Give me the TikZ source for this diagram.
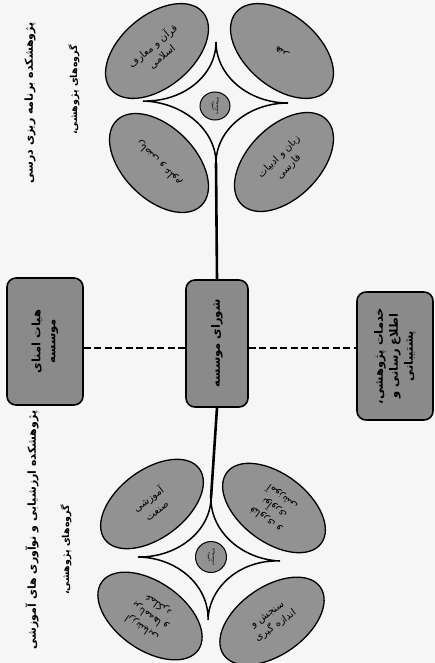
\documentclass[tikz,border=0pt]{standalone}
\usepackage{fontspec}
\newfontfamily\farsi[Script=Arabic]{DejaVu Sans}
\TeXXeTstate=1
\usetikzlibrary{shapes.geometric,calc}
\newcommand{\fa}[1]{\beginR #1\endR}
\definecolor{paper}{RGB}{246,246,246}
\definecolor{petalgray}{RGB}{146,146,146}
\definecolor{boxgray}{RGB}{138,138,138}
\tikzset{
  petal/.style={ellipse, draw=black, line width=1.3pt, fill=petalgray, inner sep=0pt,
    minimum width=120pt, minimum height=72pt, align=center,
    font=\farsi\fontsize{10}{14}\selectfont},
  hub/.style={ellipse, draw=black, line width=1pt, fill=petalgray, inner sep=0pt,
    minimum width=28pt, minimum height=30pt, align=center,
    font=\farsi\fontsize{4}{5}\selectfont},
  orgbox/.style={rectangle, rounded corners=9pt, draw=black, line width=1.6pt,
    fill=boxgray, inner sep=2pt, align=center,
    font=\farsi\bfseries\fontsize{11.5}{15}\selectfont},
  arc/.style={draw=black, line width=1.5pt},
  spine/.style={draw=black, line width=2.6pt},
  dashconn/.style={draw=black, line width=2.6pt, dash pattern=on 7pt off 3.5pt},
  titletext/.style={font=\farsi\bfseries\fontsize{11}{13}\selectfont, inner sep=0pt},
  grouptext/.style={font=\farsi\bfseries\fontsize{9.5}{12}\selectfont, inner sep=0pt}
}
\begin{document}
\begin{tikzpicture}[x=1pt,y=-1pt]
\useasboundingbox (0,0) rectangle (435,663);
\fill[paper] (0,0) rectangle (435,663);

% ---------- upper cluster ----------
\coordinate (uT) at (216,42);
\coordinate (uL) at (143,101);
\coordinate (uR) at (288,103);
\coordinate (uB) at (216,163);
\coordinate (uC) at (216,103);
\draw[arc] (uT) .. controls ($(uC)!0.45!(uT)$) and ($(uC)!0.45!(uR)$) .. (uR)
                .. controls ($(uC)!0.45!(uR)$) and ($(uC)!0.45!(uB)$) .. (uB)
                .. controls ($(uC)!0.45!(uB)$) and ($(uC)!0.45!(uL)$) .. (uL)
                .. controls ($(uC)!0.45!(uL)$) and ($(uC)!0.45!(uT)$) .. (uT);
\node[hub, rotate=90] (uhub) at (215,106) {\fa{رئیس}\\\fa{پژوهشکده}};

\node[petal, rotate=40]  (utl) at (157,51)  {\fa{قرآن و معارف}\\\fa{اسلامی}};
\node[petal, rotate=140] (utr) at (282,51)  {\fa{هنر}};
\node[petal, rotate=135] (ubl) at (159,163) {\fa{ریاضی و علوم}};
\node[petal, rotate=45]  (ubr) at (284,162) {\fa{زبان و ادبیات}\\\fa{فارسی}};

\node[titletext, rotate=90] (t1) at (30,103) {\fa{پژوهشکده برنامه ریزی درسی}};
\node[grouptext, rotate=90] (g1) at (74,90) {\fa{گروه‌های پژوهشی،}};

% ---------- middle row ----------
\node[orgbox, rotate=90, minimum width=127pt, minimum height=76pt] (lbox) at (45,341.5)
  {\fa{هیات امنای}\\\fa{موسسه}};
\node[orgbox, rotate=90, minimum width=127pt, minimum height=62pt] (cbox) at (217,343.5)
  {\fa{شورای موسسه}};
\node[orgbox, rotate=90, minimum width=128pt, minimum height=76pt] (rbox) at (395,356)
  {\fa{خدمات پژوهشی،}\\\fa{اطلاع رسانی و}\\\fa{پشتیبانی}};

\coordinate (dashy) at (0,348);
\draw[dashconn] (lbox.south |- dashy) -- (cbox.north |- dashy);
\draw[dashconn] (cbox.south |- dashy) -- (rbox.north |- dashy);

\draw[spine] (uB) -- (cbox.east);

% ---------- lower cluster ----------
\coordinate (lT) at (211,498);
\coordinate (lL) at (138,557);
\coordinate (lR) at (280,561);
\coordinate (lB) at (208,620);
\coordinate (lC) at (210,558);
\draw[spine] (cbox.west) -- (lT);
\draw[arc] (lT) .. controls ($(lC)!0.45!(lT)$) and ($(lC)!0.45!(lR)$) .. (lR)
                .. controls ($(lC)!0.45!(lR)$) and ($(lC)!0.45!(lB)$) .. (lB)
                .. controls ($(lC)!0.45!(lB)$) and ($(lC)!0.45!(lL)$) .. (lL)
                .. controls ($(lC)!0.45!(lL)$) and ($(lC)!0.45!(lT)$) .. (lT);
\node[hub, rotate=90, minimum width=31pt, minimum height=31pt] (lhub) at (211,557) {\fa{رئیس}\\\fa{پژوهشکده}};

\node[petal, rotate=37,  minimum width=118pt, minimum height=68pt] (ltl) at (152,504) {\fa{آموزشی}\\\fa{صنعت}};
\node[petal, rotate=143, minimum width=118pt, minimum height=68pt] (ltr) at (274,508) {\fa{فناوری و}\\\fa{نوآوری}\\\fa{آموزشی}};
\node[petal, rotate=145, minimum width=118pt, minimum height=68pt] (lbl) at (150,616) {\fa{ارزشیابی}\\\fa{برنامه‌ها و}\\\fa{عملکرد}};
\node[petal, rotate=35,  minimum width=118pt, minimum height=68pt] (lbr) at (272,621) {\fa{سنجش و}\\\fa{اندازه گیری}};

\node[titletext, rotate=90] (t2) at (32,530) {\fa{پژوهشکده ارزشیابی و نوآوری های آموزشی}};
\node[grouptext, rotate=90] (g2) at (66,550) {\fa{گروه‌های پژوهشی،}};
\end{tikzpicture}
\end{document}
